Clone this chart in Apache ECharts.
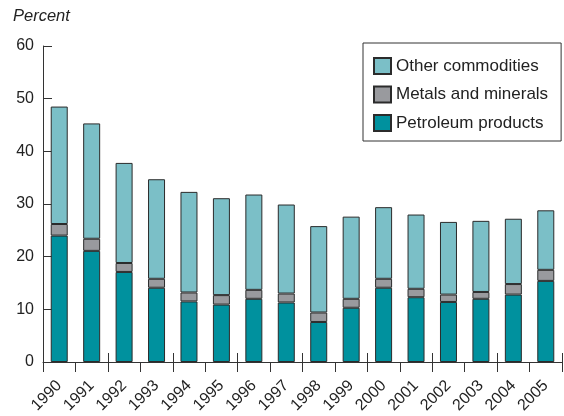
<!DOCTYPE html>
<html><head><meta charset="utf-8">
<script src="https://cdn.jsdelivr.net/npm/echarts@6/dist/echarts.min.js"></script>
<style>html,body{margin:0;padding:0;background:#fff}#c{width:564px;height:416px}</style>
</head><body><div id="c"></div>
<script>
const years = ['1990','1991','1992','1993','1994','1995','1996','1997','1998','1999','2000','2001','2002','2003','2004','2005'];
const petroleum = [24.0,21.1,17.1,14.1,11.5,10.9,12.0,11.3,7.6,10.3,14.1,12.3,11.4,12.0,12.8,15.4];
const metals    = [2.2,2.3,1.7,1.7,1.7,1.8,1.7,1.7,1.8,1.7,1.7,1.6,1.4,1.3,2.0,2.1];
const other     = [22.3,21.9,19.0,18.9,19.1,18.4,18.1,16.9,16.4,15.6,13.6,14.1,13.8,13.5,12.4,11.3];
const yTicks = [0,10,20,30,40,50,60];
const names = ['Petroleum products','Metals and minerals','Other commodities'];

const FONT = '"Liberation Sans", Arial, Helvetica, sans-serif';
const TXT = '#222';
const chart = echarts.init(document.getElementById('c'), null, {renderer:'canvas'});
const bs = (color) => ({color: color, borderColor: '#2b2b2b', borderWidth: 1});
chart.setOption({
  animation: false,
  textStyle: {fontFamily: FONT, color: TXT},
  grid: {left: 43, right: 2, top: 46, bottom: 54},
  legend: {
    orient: 'vertical', left: 363, top: 43,
    data: [names[2], names[1], names[0]],
    itemWidth: 17, itemHeight: 16, itemGap: 10.5,
    padding: [14, 13, 9, 10],
    borderColor: '#333', borderWidth: 1,
    icon: 'rect',
    textStyle: {fontFamily: FONT, fontSize: 17, color: TXT, lineHeight: 17}
  },
  graphic: [{type: 'text', left: 13, top: 8, style: {text: 'Percent', font: 'italic 16.5px ' + FONT, fill: TXT}}],
  xAxis: [{
    type: 'category', data: years, boundaryGap: true,
    axisLine: {lineStyle: {color: '#333', width: 1}},
    axisTick: {show: true, inside: false, length: 10, lineStyle: {color: '#333'}},
    axisLabel: {rotate: 45, fontSize: 16, color: TXT, fontFamily: FONT, margin: 21, interval: 0}
  }, {
    type: 'category', data: years, boundaryGap: true, position: 'bottom',
    axisLine: {show: false},
    axisTick: {show: true, inside: true, length: 9, lineStyle: {color: '#333'}},
    axisLabel: {show: false}
  }],
  yAxis: {
    type: 'value', min: yTicks[0], max: yTicks[yTicks.length-1], interval: 10,
    axisLine: {show: true, lineStyle: {color: '#333', width: 1}},
    axisTick: {show: true, inside: true, length: 9, lineStyle: {color: '#333'}},
    splitLine: {show: false},
    axisLabel: {fontSize: 16, color: TXT, fontFamily: FONT, margin: 9}
  },
  series: [
    {name: names[0], type: 'bar', stack: 's', data: petroleum, barWidth: 17, itemStyle: bs('#00919e')},
    {name: names[1], type: 'bar', stack: 's', data: metals, barWidth: 17, itemStyle: bs('#999a9e')},
    {name: names[2], type: 'bar', stack: 's', data: other, barWidth: 17, itemStyle: bs('#7bbfc7')}
  ]
});
</script></body></html>
